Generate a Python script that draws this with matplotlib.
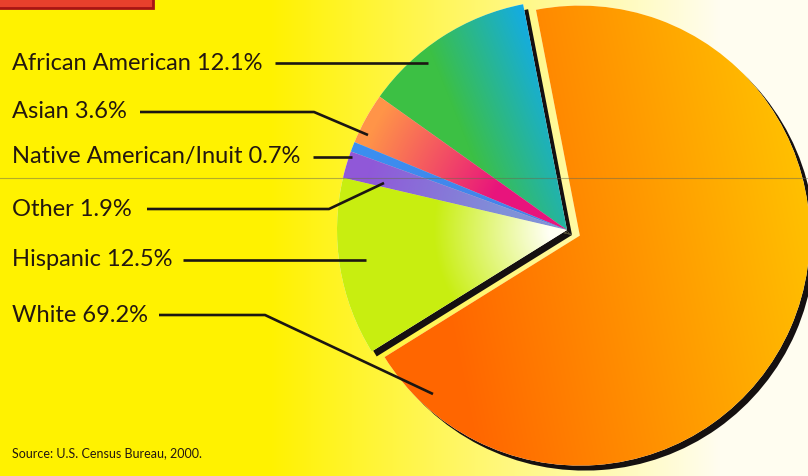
import numpy as np
import matplotlib
matplotlib.use("Agg")
import matplotlib.pyplot as plt
from matplotlib.colors import to_rgb
from matplotlib.patches import Rectangle

# data (2000 census shares, %)
groups = ["African American", "Asian", "Native American/Inuit", "Other", "Hispanic", "White"]
shares = [12.1, 3.6, 0.7, 1.9, 12.5, 69.2]
source = "Source: U.S. Census Bureau, 2000."

W, H = 808, 476
cx, cy, R = 567, H - 230, 230
# pie's explode is in data units here (pixels)
explode = [0, 0, 0, 0, 0, 14]

# label text y (px from top) and leader polyline (px, y from top)
label_y = [63, 112, 157, 209, 260, 315]
leaders = [
    [(275, 63), (428, 63)],
    [(140, 112), (314, 112), (368, 135)],
    [(313, 157), (352, 157)],
    [(147, 209), (329, 209), (384, 183)],
    [(183, 260), (366, 260)],
    [(159, 315), (265, 315), (433, 394)],
]

plt.rcParams['font.family'] = ['Lato', 'DejaVu Sans']

fig = plt.figure(figsize=(W / 100, H / 100), dpi=100)
ax = fig.add_axes([0, 0, 1, 1])

xx, yy = np.meshgrid(np.arange(W) + 0.5, np.arange(H) + 0.5)


def mix(c0, c1, t):
    c0 = np.array(to_rgb(c0))
    c1 = np.array(to_rgb(c1))
    t = np.clip(t, 0, 1)[..., None]
    return c0 * (1 - t) + c1 * t


# background: yellow fading to white toward the right
bg = mix("#fff200", "#fffdf0", (xx - 270) / 450)
ax.imshow(bg, extent=(0, W, 0, H), origin="lower", zorder=0)

# drop shadow of the pie
ax.pie(shares, colors=["#151010"] * 6, explode=explode, startangle=101,
       radius=R, center=(cx + 5, cy - 5), wedgeprops={"linewidth": 0})

wedges, _ = ax.pie(shares, colors=["#ffffff"] * 6, explode=explode, startangle=101,
                   radius=R, center=(cx, cy), wedgeprops={"linewidth": 0})

rr = np.hypot(xx - cx, yy - cy) / R
fills = [
    mix("#3cc044", "#10aaf2", (xx - 440 + (yy - 400) * 0.4) / 120),
    mix("#e8147c", "#ff9448", (rr - 0.35) / 0.6),
    mix("#4a7ee8", "#3a90f0", rr),
    mix("#8090d8", "#9058d8", (rr - 0.3) / 0.6),
    mix("#fffff4", "#c8ee10", (rr - 0.08) / 0.5),
    mix("#ff6600", "#ffc200", (xx - 430 + (yy - 250) * 0.2) / 390),
]
for w, img in zip(wedges, fills):
    im = ax.imshow(img, extent=(0, W, 0, H), origin="lower", zorder=2)
    im.set_clip_path(w)

# labels and leader lines
for name, val, ly, pts in zip(groups, shares, label_y, leaders):
    ax.text(12, H - ly, f"{name} {val}%", fontsize=17, color="#231710",
            va="center", ha="left", zorder=5)
    px = [p[0] for p in pts]
    py = [H - p[1] for p in pts]
    ax.plot(px, py, color="#1c1612", lw=1.9, solid_capstyle="butt", zorder=5)

ax.text(12, H - 453, source, fontsize=9, color="#231710", va="center", zorder=5)

# scan fold line and the cut-off header box
ax.axhline(H - 178, color="#6a6a50", lw=0.8, alpha=0.5, zorder=6)
ax.add_patch(Rectangle((-2, H - 8), 155, 12, facecolor="#e8402c",
                       edgecolor="#a81414", lw=2, zorder=6))

ax.set_xlim(0, W)
ax.set_ylim(0, H)
ax.set_aspect("auto")
ax.axis("off")
fig.savefig("out.png", dpi=100)
